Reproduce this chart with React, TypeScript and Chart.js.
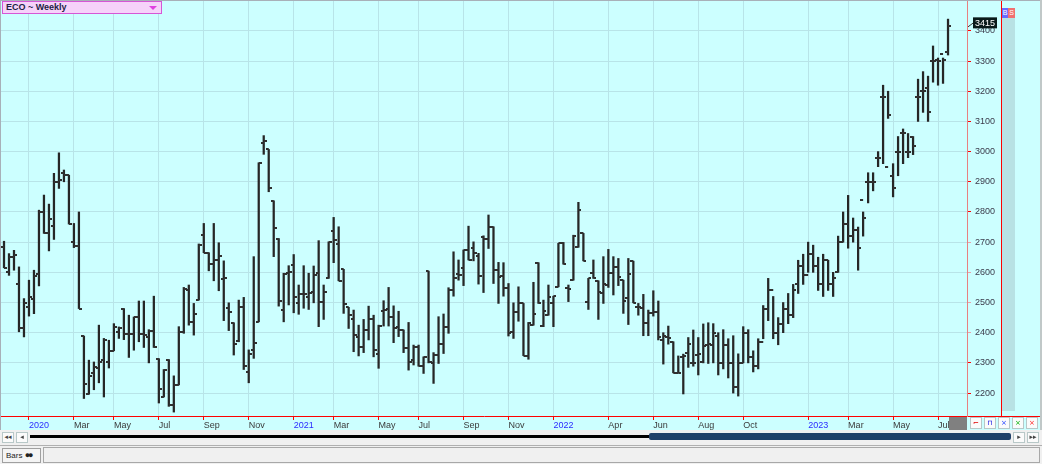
import React, { useEffect, useRef } from 'react';
import { Chart, registerables } from 'chart.js';
Chart.register(...registerables);

// Weekly OHLC bars (index 0 = early Dec 2019)
const opens = [
  2684,2602,2651,2563,2414,2486,2513,2596,2800,2731,2753,2900,2928,2922,2701,2687,2389,2198,2265,2283,
  2309,2303,2340,2403,2480,2395,2395,2452,2397,2386,2406,2314,2187,2311,2160,2227,2403,2541,2436,2508,
  2724,2665,2627,2641,2577,2481,2433,2373,2484,2271,2342,2436,3029,3007,2837,2712,2475,2599,2623,2499,
  2528,2519,2536,2597,2503,2580,2737,2693,2610,2484,2444,2387,2353,2409,2447,2329,2473,2477,2451,2420,
  2409,2348,2309,2351,2289,2604,2300,2326,2362,2420,2543,2594,2616,2674,2679,2654,2718,2709,2749,2607,
  2588,2547,2403,2469,2497,2324,2425,2632,2422,2458,2497,2552,2696,2547,2574,2683,2729,2503,2599,2572,
  2530,2558,2599,2619,2574,2514,2637,2484,2481,2433,2464,2469,2376,2387,2370,2267,2320,2334,2298,2326,
  2304,2359,2360,2390,2300,2360,2300,2220,2300,2400,2320,2290,2370,2480,2540,2400,2430,2480,2460,2560,
  2620,2590,2660,2620,2560,2640,2560,2600,2700,2760,2720,2740,2840,2900,2900,2980,3180,2950,2920,3000,
  3060,3000,3050,3180,3200,3210,3300,3305,3325,3330
];
const highs = [
  2703,2662,2673,2618,2513,2574,2607,2806,2856,2826,2928,2996,2939,2922,2762,2800,2389,2309,2303,2425,
  2381,2375,2430,2419,2480,2458,2452,2505,2505,2410,2521,2314,2278,2311,2257,2420,2550,2558,2497,2694,
  2762,2665,2762,2698,2638,2499,2433,2508,2517,2343,2652,2963,3053,3007,2837,2712,2597,2622,2659,2558,
  2622,2597,2621,2705,2558,2701,2782,2751,2610,2484,2475,2425,2444,2488,2458,2425,2506,2550,2489,2471,
  2409,2434,2359,2359,2320,2604,2334,2453,2462,2549,2668,2641,2674,2753,2701,2663,2721,2790,2751,2633,
  2632,2563,2499,2552,2497,2434,2567,2632,2508,2558,2521,2696,2699,2558,2723,2832,2729,2580,2641,2572,
  2652,2676,2652,2646,2574,2646,2637,2497,2527,2475,2539,2505,2400,2422,2370,2323,2329,2384,2409,2384,
  2429,2433,2430,2400,2410,2380,2390,2330,2420,2410,2340,2380,2490,2580,2520,2450,2500,2530,2560,2640,
  2660,2700,2690,2650,2660,2640,2600,2720,2800,2855,2780,2750,2800,2930,2930,3000,3220,3200,2960,3050,
  3075,3060,3050,3240,3265,3250,3350,3310,3310,3439
];
const lows = [
  2615,2590,2607,2403,2386,2455,2463,2555,2729,2671,2709,2878,2900,2760,2682,2480,2182,2196,2211,2234,
  2187,2283,2340,2381,2377,2318,2342,2370,2351,2300,2351,2167,2187,2156,2137,2227,2398,2425,2392,2508,
  2665,2605,2572,2539,2440,2407,2326,2370,2278,2234,2315,2436,2991,2867,2652,2488,2436,2492,2466,2461,
  2481,2477,2499,2420,2444,2580,2632,2572,2464,2414,2337,2323,2334,2376,2320,2282,2422,2422,2367,2387,
  2334,2276,2293,2289,2265,2300,2232,2298,2331,2398,2521,2574,2556,2641,2638,2561,2533,2679,2563,2497,
  2521,2389,2381,2438,2324,2312,2425,2497,2420,2458,2420,2552,2627,2503,2574,2683,2638,2477,2580,2444,
  2497,2550,2525,2556,2464,2427,2499,2458,2390,2390,2455,2376,2296,2362,2267,2267,2197,2285,2289,2260,
  2300,2298,2300,2260,2280,2250,2200,2190,2300,2300,2270,2280,2380,2440,2380,2360,2400,2430,2450,2530,
  2560,2600,2600,2540,2520,2540,2520,2600,2700,2680,2700,2607,2720,2830,2870,2950,2960,3110,2850,2920,
  2960,2980,2990,3100,3130,3100,3230,3220,3226,3320
];
const closes = [
  2615,2651,2659,2414,2497,2519,2587,2800,2731,2776,2900,2905,2922,2760,2687,2480,2229,2257,2287,2303,
  2377,2340,2419,2414,2397,2395,2452,2397,2392,2406,2351,2215,2278,2160,2226,2403,2544,2436,2462,2690,
  2665,2627,2641,2654,2580,2469,2362,2486,2289,2331,2367,2961,3035,2878,2746,2505,2593,2602,2517,2528,
  2528,2532,2591,2503,2536,2701,2707,2572,2495,2458,2392,2354,2409,2447,2342,2422,2475,2451,2414,2409,
  2348,2304,2351,2289,2318,2304,2326,2362,2420,2541,2580,2591,2674,2641,2665,2588,2709,2749,2607,2583,
  2547,2398,2469,2497,2324,2431,2462,2497,2473,2519,2521,2696,2627,2544,2721,2808,2638,2580,2580,2536,
  2561,2599,2619,2583,2505,2596,2499,2484,2433,2464,2469,2387,2389,2384,2267,2267,2323,2364,2298,2329,
  2356,2364,2400,2300,2360,2300,2220,2300,2400,2320,2290,2370,2480,2540,2400,2430,2480,2460,2540,2620,
  2590,2660,2620,2560,2640,2560,2580,2700,2760,2720,2740,2680,2780,2900,2900,2980,3180,3120,2880,3000,
  3060,3000,3020,3180,3200,3130,3300,3300,3305,3415
];

const xTickIdx = [5, 14, 22, 31, 40, 49, 58, 66, 75, 83, 92, 101, 110, 121, 130, 139, 148, 161, 169, 178, 187];
const xTickLabels = ['2020', 'Mar', 'May', 'Jul', 'Sep', 'Nov', '2021', 'Mar', 'May', 'Jul', 'Sep', 'Nov', '2022', 'Apr', 'Jun', 'Aug', 'Oct', '2023', 'Mar', 'May', 'Jul'];
const yTickValues = [2200, 2300, 2400, 2500, 2600, 2700, 2800, 2900, 3000, 3100, 3200, 3300, 3400];
const palePriceTicks = [2400, 2500, 2600, 2700];

const FONT = 'Liberation Sans';

function makeTick(side: 'left' | 'right'): HTMLCanvasElement {
  const c = document.createElement('canvas');
  c.width = 6;
  c.height = 2;
  const g = c.getContext('2d')!;
  g.fillStyle = '#303030';
  if (side === 'left') g.fillRect(0, 0, 3, 2);
  else g.fillRect(3, 0, 3, 2);
  return c;
}

export default function App() {
  const ref = useRef<HTMLCanvasElement | null>(null);

  useEffect(() => {
    document.body.style.margin = '0';
    const canvas = ref.current;
    if (!canvas) return;
    const openImg = makeTick('left');
    const closeImg = makeTick('right');

    const lastPricePlugin = {
      id: 'lastPrice',
      afterDraw(chart: any) {
        const { ctx, scales } = chart;
        const last = closes[closes.length - 1];
        const y = scales.y.getPixelForValue(last);
        const x0 = chart.chartArea.right;
        ctx.save();
        ctx.strokeStyle = '#333';
        ctx.lineWidth = 1;
        ctx.beginPath();
        ctx.moveTo(x0 + 1, y + 0.5);
        ctx.lineTo(x0 + 7, y - 4);
        ctx.stroke();
        ctx.fillStyle = '#0a1a1a';
        ctx.fillRect(x0 + 6, y - 9, 24, 11);
        ctx.fillStyle = '#ffffff';
        ctx.font = `9px ${FONT}`;
        ctx.textBaseline = 'middle';
        ctx.fillText(String(last), x0 + 8, y - 3);
        ctx.restore();
      },
    };

    const chart = new Chart(canvas, {
      type: 'bar',
      data: {
        datasets: [
          {
            type: 'bar',
            data: highs.map((h, i) => ({ x: i, y: [lows[i], h] })) as any,
            backgroundColor: '#262626',
            borderWidth: 0,
            barThickness: 1.6,
            order: 2,
          } as any,
          {
            type: 'line',
            data: opens.map((o, i) => ({ x: i, y: o })),
            showLine: false,
            pointStyle: openImg as any,
            pointRadius: 2,
            pointHoverRadius: 2,
            order: 1,
          } as any,
          {
            type: 'line',
            data: closes.map((c, i) => ({ x: i, y: c })),
            showLine: false,
            pointStyle: closeImg as any,
            pointRadius: 2,
            pointHoverRadius: 2,
            order: 1,
          } as any,
        ],
      },
      options: {
        responsive: false,
        animation: false,
        devicePixelRatio: 1,
        layout: { autoPadding: false, padding: { left: 1, top: 1, right: 0, bottom: 0 } },
        plugins: { legend: { display: false }, tooltip: { enabled: false } },
        events: [],
        scales: {
          x: {
            type: 'linear',
            min: -0.6,
            max: 192.8,
            offset: false,
            afterBuildTicks: (s: any) => {
              s.ticks = xTickIdx.map((v) => ({ value: v }));
            },
            afterFit: (s: any) => {
              s.height = 14;
              s.paddingLeft = 0;
              s.paddingRight = 0;
            },
            grid: {
              offset: false,
              color: 'rgb(184,228,232)',
              tickColor: '#ff0000',
              tickLength: 4,
              lineWidth: 1,
            },
            border: { color: '#ff0000', width: 1 },
            ticks: {
              align: 'start',
              autoSkip: false,
              maxRotation: 0,
              padding: 0,
              font: { family: FONT, size: 9 },
              color: (ctx: any) => (/^\d{4}$/.test(xTickLabels[ctx.index] || '') ? '#2b2bff' : '#3a3a3a'),
              callback: (_v: any, i: number) => xTickLabels[i],
            },
          } as any,
          y: {
            type: 'linear',
            position: 'right',
            min: 2124,
            max: 3499,
            afterBuildTicks: (s: any) => {
              s.ticks = yTickValues.map((v) => ({ value: v }));
            },
            afterFit: (s: any) => {
              s.width = 75;
              s.paddingTop = 0;
              s.paddingBottom = 0;
            },
            grid: {
              color: 'rgb(184,228,232)',
              tickColor: (ctx: any) => (palePriceTicks.includes(ctx.tick?.value) ? '#e8a0a8' : '#ff0000'),
              tickLength: 4,
            },
            border: { color: '#e88080', width: 1 },
            ticks: {
              padding: 4,
              color: '#3a3a4a',
              font: { family: FONT, size: 9 },
              callback: (v: any) => String(v),
            },
          } as any,
        },
      },
      plugins: [lastPricePlugin],
    });
    return () => chart.destroy();
  }, []);

  const btn = (left: number, top: number, w: number, h: number, content: React.ReactNode, color = '#333') => (
    <div
      style={{
        position: 'absolute', left, top, width: w, height: h, boxSizing: 'border-box',
        border: '1px solid #b8c8c8', background: '#fbfbfb', color, fontSize: 7,
        lineHeight: `${h - 2}px`, textAlign: 'center', fontFamily: 'DejaVu Sans',
      }}
    >
      {content}
    </div>
  );

  return (
    <div style={{ position: 'fixed', left: 0, top: 0, width: 1042, height: 464, background: '#f0f0f0', overflow: 'hidden', fontFamily: FONT }}>
      <div style={{ position: 'absolute', left: 0, top: 0, width: 1042, height: 430, background: '#ccffff' }} />
      {/* teal strip and red line on the right */}
      <div style={{ position: 'absolute', left: 1002, top: 8, width: 13, height: 403, background: 'rgb(184,226,228)' }} />
      <div style={{ position: 'absolute', left: 1001, top: 0, width: 1, height: 416, background: '#ff0000' }} />
      <div style={{ position: 'absolute', left: 967, top: 416, width: 75, height: 1, background: '#ff0000' }} />
      <canvas ref={ref} width={1042} height={430} style={{ position: 'absolute', left: 0, top: 0 }} />
      {/* frame */}
      <div style={{ position: 'absolute', left: 0, top: 0, width: 1042, height: 1, background: '#a8b0b8' }} />
      <div style={{ position: 'absolute', left: 0, top: 0, width: 1, height: 430, background: '#a8b0b8' }} />
      <div style={{ position: 'absolute', left: 1040, top: 0, width: 2, height: 430, background: '#c0c8c8' }} />
      {/* title box */}
      <div
        style={{
          position: 'absolute', left: 2, top: 1, width: 160, height: 13, boxSizing: 'border-box',
          background: 'rgb(246,210,250)', border: '1px solid rgb(214,86,214)', color: '#222244',
          fontWeight: 'bold', fontSize: 9, lineHeight: '11px', paddingLeft: 3, fontFamily: FONT,
        }}
      >
        ECO ~ Weekly
        <div
          style={{
            position: 'absolute', right: 4, top: 4, width: 0, height: 0,
            borderLeft: '4px solid transparent', borderRight: '4px solid transparent', borderTop: '4px solid #e040e0',
          }}
        />
      </div>
      {/* B / S */}
      <div style={{ position: 'absolute', left: 1002, top: 8, width: 6, height: 10, background: '#6a6aff', color: '#fff', fontSize: 7, lineHeight: '10px', textAlign: 'center' }}>B</div>
      <div style={{ position: 'absolute', left: 1008, top: 8, width: 7, height: 10, background: '#f07070', color: '#fff', fontSize: 7, lineHeight: '10px', textAlign: 'center' }}>S</div>
      {/* grey box and small buttons */}
      <div style={{ position: 'absolute', left: 949, top: 417, width: 18, height: 13, background: '#808080' }} />
      {btn(970, 417, 12, 12, '⌐', '#e00000')}
      {btn(984, 417, 12, 12, '⊓', '#0000e0')}
      {btn(998, 417, 12, 12, '×', '#2040ff')}
      {btn(1012, 417, 12, 12, '×', '#00b000')}
      {btn(1026, 417, 12, 12, '×', '#ff2020')}
      {/* scroll row */}
      {btn(2, 432, 12, 11, '◂◂', '#444')}
      {btn(16, 432, 12, 11, '◂', '#444')}
      <div style={{ position: 'absolute', left: 30, top: 435, width: 620, height: 3, background: '#000' }} />
      <div style={{ position: 'absolute', left: 649, top: 433, width: 362, height: 7, background: '#1f4068', borderRadius: 2 }} />
      {btn(1013, 432, 12, 11, '▸', '#444')}
      {btn(1027, 432, 12, 11, '▸▸', '#444')}
      {/* status row */}
      <div style={{ position: 'absolute', left: 0, top: 445, width: 1042, height: 1, background: '#b0b0b0' }} />
      <div style={{ position: 'absolute', left: 2, top: 448, width: 39, height: 15, boxSizing: 'border-box', border: '1px solid #a0a0a0', background: '#f4f4f4', fontSize: 8, lineHeight: '13px', paddingLeft: 3, color: '#222' }}>
        Bars <span style={{ letterSpacing: -2, fontSize: 9 }}>●●</span>
      </div>
      <div style={{ position: 'absolute', left: 43, top: 447, width: 997, height: 16, boxSizing: 'border-box', border: '1px solid #a8a8a8', background: '#f0f0f0' }} />
    </div>
  );
}
